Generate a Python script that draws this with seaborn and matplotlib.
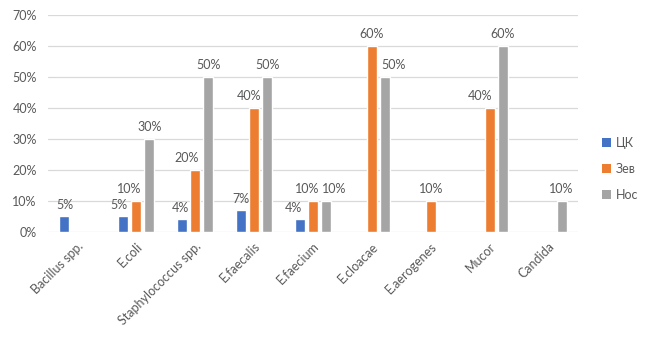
import matplotlib
matplotlib.use("Agg")
import matplotlib.pyplot as plt
import seaborn as sns
import pandas as pd
from matplotlib.ticker import PercentFormatter
from matplotlib.patches import Patch

categories = ["Bacillus spp.", "E.coli", "Staphylococcus spp.", "E.faecalis",
              "E.faecium", "E.cloacae", "E.aerogenes", "Mucor", "Candida"]
series_names = ["ЦК", "Зев", "Нос"]
ck = [5, 5, 4, 7, 4, 0, 0, 0, 0]
zev = [0, 10, 20, 40, 10, 60, 10, 40, 0]
nos = [0, 30, 50, 50, 10, 50, 0, 60, 10]
colors = ["#4472C4", "#ED7D31", "#A5A5A5"]
text_color = "#595959"

rows = []
for name, vals in zip(series_names, [ck, zev, nos]):
    for cat, v in zip(categories, vals):
        rows.append({"cat": cat, "series": name, "value": v})
df = pd.DataFrame(rows)

sns.set_theme(style="white")
plt.rcParams["font.family"] = ["Lato", "DejaVu Sans"]
fs = 9

fig = plt.figure(figsize=(6.48, 3.40), dpi=100)
ax = fig.add_axes([0.074, 0.318, 0.818, 0.638])

sns.barplot(data=df, x="cat", y="value", hue="series", order=categories,
            hue_order=series_names, palette=colors, width=0.66, gap=0.23,
            saturation=1, legend=False, ax=ax)

ax.set_ylim(0, 70)
ax.set_yticks(range(0, 71, 10))
ax.yaxis.set_major_formatter(PercentFormatter(decimals=0))
ax.grid(axis="y", color="#D9D9D9", linewidth=0.9)
ax.set_axisbelow(True)
for s in ax.spines.values():
    s.set_visible(False)
ax.set_xlabel("")
ax.set_ylabel("")
ax.tick_params(axis="both", length=0, colors=text_color, labelsize=fs)
ax.tick_params(axis="y", pad=8)
ax.tick_params(axis="x", pad=6)
plt.setp(ax.get_xticklabels(), rotation=45, ha="right", rotation_mode="anchor")
ax.set_xlim(-0.5, len(categories) - 0.5)

# value labels above non-zero bars
label_sets = []
for container, vals in zip(ax.containers, [ck, zev, nos]):
    labels = [f"{v}%" if v > 0 else "" for v in vals]
    label_sets.append(ax.bar_label(container, labels=labels, padding=4,
                                   fontsize=fs, color=text_color))

# horizontal nudges (points) so labels clear neighbouring bars and labels
nudges = {
    (0, "E.coli"): -3, (0, "Staphylococcus spp."): -1.5, (0, "E.faecium"): -4.5,
    (1, "E.coli"): -5.5, (1, "Staphylococcus spp."): -6, (1, "E.faecalis"): -3.5,
    (1, "E.faecium"): -4.5, (1, "Mucor"): -7,
    (2, "E.cloacae"): 6, (2, "E.faecium"): 6,
}
for (s, cat), dx in nudges.items():
    label_sets[s][categories.index(cat)].xyann = (dx, 4)

handles = [Patch(facecolor=c, edgecolor="none") for c in colors]
fig.legend(handles, series_names, loc="center left", bbox_to_anchor=(0.912, 0.503),
           frameon=False, fontsize=fs, labelcolor=text_color, handlelength=0.7,
           handleheight=0.7, handletextpad=0.4, labelspacing=1.1)

fig.savefig("out.png", dpi=100)
